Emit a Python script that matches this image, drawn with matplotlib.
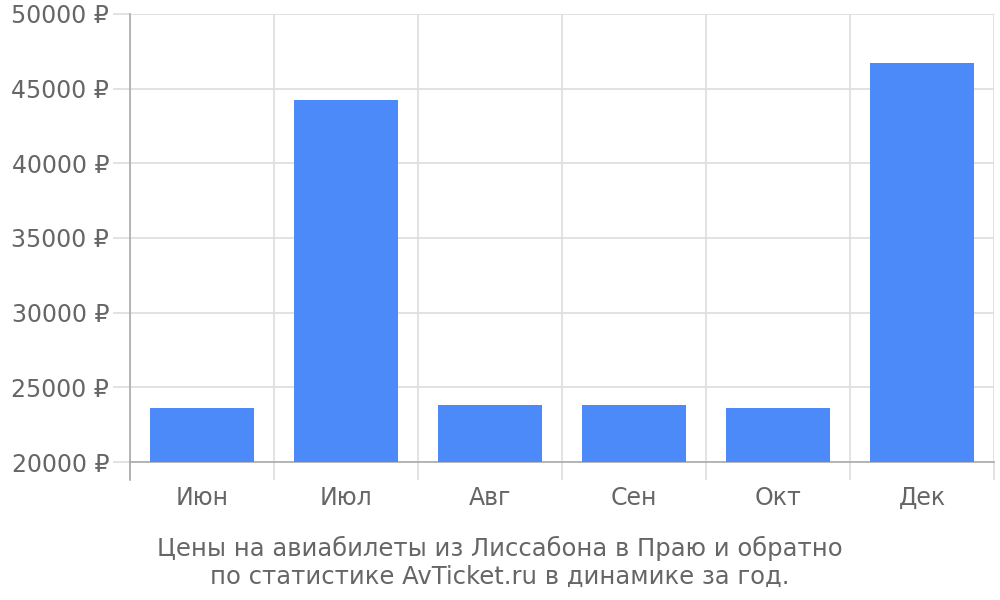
import numpy as np
import matplotlib.pyplot as plt

months = ["Июн", "Июл", "Авг", "Сен", "Окт", "Дек"]
prices = [23600, 44250, 23800, 23800, 23640, 46680]
yticks = [20000, 25000, 30000, 35000, 40000, 45000, 50000]
caption = "Цены на авиабилеты из Лиссабона в Праю и обратно\nпо статистике AvTicket.ru в динамике за год."

text_color = "#666666"
grid_color = "#dddddd"
axis_color = "#aaaaaa"

fig = plt.figure(figsize=(10, 6), dpi=100)
ax = fig.add_axes([0.13, 0.23, 0.864, 0.747])

x = np.arange(len(months))
ax.bar(x, prices, width=0.72, color="#4d8af9", zorder=3)

ax.set_xlim(-0.5, len(months) - 0.5)
ax.set_ylim(20000, 50000)
ax.set_yticks(yticks)
ax.set_yticklabels([f"{v} ₽" for v in yticks])
ax.set_xticks(x)
ax.set_xticklabels(months)

# vertical grid between categories
ax.set_xticks(np.arange(len(months) + 1) - 0.5, minor=True)
ax.grid(True, axis="y", color=grid_color, linewidth=1.2, zorder=0)
ax.grid(True, axis="x", which="minor", color=grid_color, linewidth=1.2, zorder=0)
ax.tick_params(axis="x", which="major", length=0, pad=17, labelsize=17, labelcolor=text_color)
ax.tick_params(axis="x", which="minor", length=13, color=grid_color, width=1.2)
ax.tick_params(axis="y", length=12, color=grid_color, width=1.2, pad=3,
               labelsize=17, labelcolor=text_color)

for side in ["top", "right"]:
    ax.spines[side].set_visible(False)
ax.spines["left"].set_color(axis_color)
ax.spines["left"].set_bounds(20000, 50000)
ax.spines["bottom"].set_color(axis_color)
ax.spines["left"].set_linewidth(1.2)
ax.spines["bottom"].set_linewidth(1.2)
# left axis line extends below the baseline
ax.plot([-0.5, -0.5], [20000, 18800], color=axis_color, lw=1.2, clip_on=False, zorder=4)

fig.text(0.5, 0.018, caption, ha="center", va="bottom", fontsize=17.5,
         color=text_color, linespacing=1.2)

fig.savefig("out.png", dpi=100)
